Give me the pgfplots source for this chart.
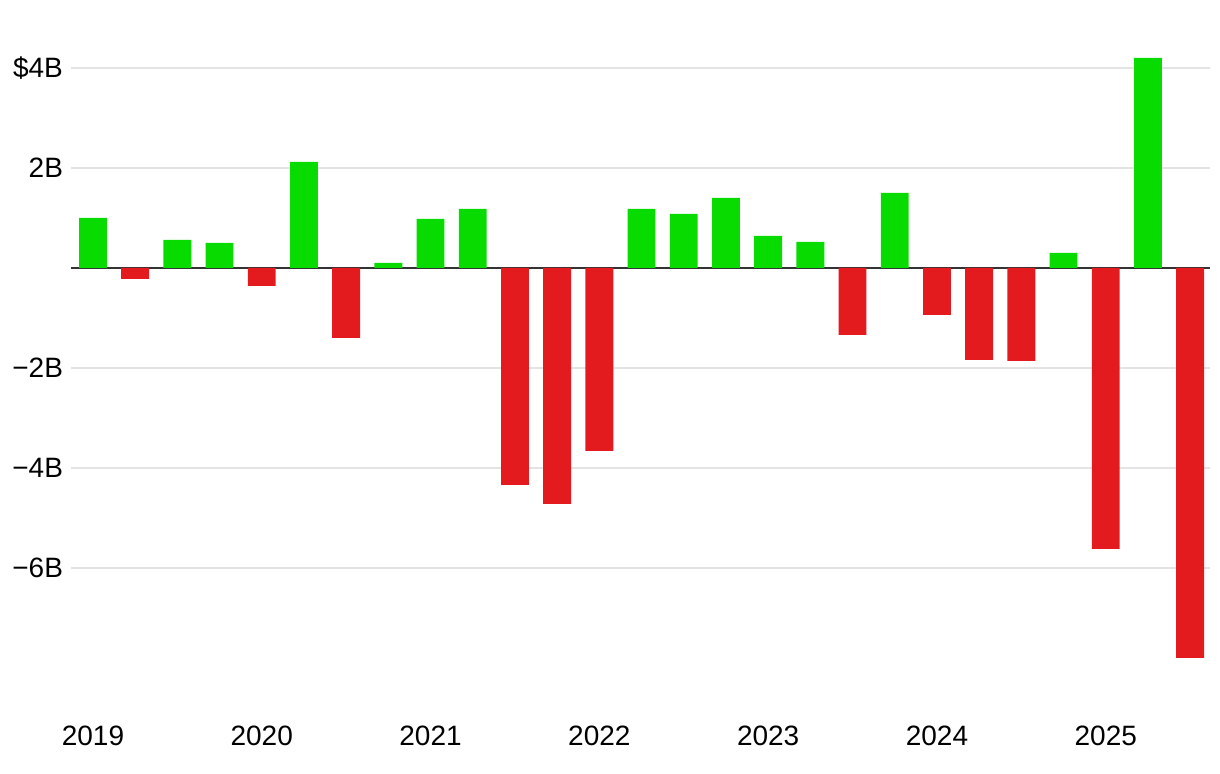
\documentclass[border=0pt]{standalone}
\usepackage{pgfplots}
\pgfplotsset{compat=1.18}
\usepackage{fontspec}
\setmainfont{Liberation Sans}
\definecolor{posgreen}{HTML}{07DB00}
\definecolor{negred}{HTML}{E31B1E}
\definecolor{gridgray}{HTML}{E3E3E3}
\definecolor{zeroline}{HTML}{333333}
\begin{document}
\begin{tikzpicture}
\begin{axis}[
  scale only axis,
  width=569.5pt, height=327.5pt,
  xmin=-0.52, xmax=26.47,
  ymin=-8.5, ymax=4.6,
  axis line style={draw=none},
  tick style={draw=none},
  ytick={-6,-4,-2,2,4},
  yticklabels={−6B,−4B,−2B,2B,\$4B},
  xtick={0,4,8,12,16,20,24},
  xticklabels={2019,2020,2021,2022,2023,2024,2025},
  ymajorgrids,
  grid style={gridgray, line width=0.6pt},
  extra y ticks={0},
  extra y tick labels={},
  extra y tick style={grid style={zeroline, line width=1pt}},
  ticklabel style={font=\fontsize{14}{16}\selectfont, text=black},
  yticklabel style={xshift=-0.5pt},
  xticklabel style={yshift=-8.5pt},
  ybar, bar width=0.66,
]
\addplot[fill=posgreen, draw=none, bar shift=0pt] coordinates {
(0,1.0) (2,0.56) (3,0.5) (5,2.12) (7,0.1) (8,0.98) (9,1.18) (13,1.18) (14,1.08) (15,1.4) (16,0.64) (17,0.52) (19,1.5) (23,0.3) (25,4.2)};
\addplot[fill=negred, draw=none, bar shift=0pt] coordinates {
(1,-0.22) (4,-0.36) (6,-1.4) (10,-4.34) (11,-4.72) (12,-3.66) (18,-1.34) (20,-0.94) (21,-1.84) (22,-1.86) (24,-5.62) (26,-7.8)};
\end{axis}
\pgfresetboundingbox
\path ([xshift=-35.5pt,yshift=-40.5pt]current axis.south west) rectangle ([xshift=5pt,yshift=19pt]current axis.north east);
\end{tikzpicture}
\end{document}
